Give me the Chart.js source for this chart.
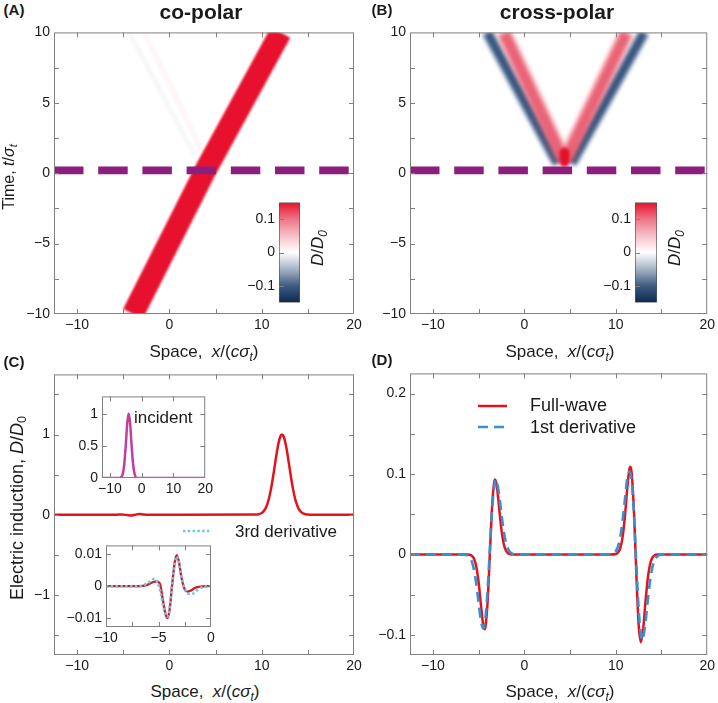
<!DOCTYPE html>
<html><head><meta charset="utf-8">
<script src="https://cdn.jsdelivr.net/npm/chart.js@4.4.1/dist/chart.umd.min.js"></script>
<style>
html,body{margin:0;padding:0;background:#fff;}
#fig{position:relative;width:718px;height:703px;overflow:hidden;background:#fff;font-family:'Liberation Sans',Arial,Helvetica,sans-serif;color:#1a1a1a;}
canvas{position:absolute;}
.t{position:absolute;white-space:nowrap;line-height:1.15;transform:translate(-50%,-50%);}
.l{position:absolute;white-space:nowrap;line-height:1.15;transform:translate(0,-50%);}
.r{transform:translate(-50%,-50%) rotate(-90deg);}
.b{font-weight:bold;}
sub{font-size:0.7em;vertical-align:-0.3em;line-height:0;}
</style></head>
<body>
<div id="fig">
<div id="plots"></div>
<div class="t b" style="left:14px;top:10px;font-size:15px">(A)</div>
<div class="t b" style="left:201px;top:11.5px;font-size:21px">co-polar</div>
<div class="t b" style="left:382px;top:10px;font-size:15px">(B)</div>
<div class="t b" style="left:557px;top:11.5px;font-size:21px">cross-polar</div>
<div class="t r" style="left:9px;top:177px;font-size:16px">Time, <i>t</i>/<i>σ</i><sub><i>t</i></sub></div>
<div class="t" style="left:204px;top:352px;font-size:17px">Space,&nbsp; <i>x</i>/(<i>cσ</i><sub><i>t</i></sub>)</div>
<div class="t" style="left:560px;top:352px;font-size:17px">Space,&nbsp; <i>x</i>/(<i>cσ</i><sub><i>t</i></sub>)</div>
<div class="t b" style="left:14px;top:362px;font-size:15px">(C)</div>
<div class="t b" style="left:382px;top:360px;font-size:15px">(D)</div>
<div class="t r" style="left:17px;top:508px;font-size:18px">Electric induction, <i>D</i>/<i>D</i><sub>0</sub></div>
<div class="t" style="left:205px;top:692px;font-size:17px">Space,&nbsp; <i>x</i>/(<i>cσ</i><sub><i>t</i></sub>)</div>
<div class="t" style="left:560px;top:692px;font-size:17px">Space,&nbsp; <i>x</i>/(<i>cσ</i><sub><i>t</i></sub>)</div>
<div class="l" style="left:134px;top:417.5px;font-size:17px">incident</div>
<div class="l" style="left:235px;top:532px;font-size:17px">3rd derivative</div>
<div class="l" style="left:530px;top:405px;font-size:18px">Full-wave</div>
<div class="l" style="left:530px;top:427px;font-size:18px">1st derivative</div>
<div class="t r" style="left:318px;top:248px;font-size:17px"><i>D</i>/<i>D</i><sub><i>0</i></sub></div>
<div class="t r" style="left:675px;top:248px;font-size:17px"><i>D</i>/<i>D</i><sub><i>0</i></sub></div>
</div>
<script>
const FONT = "'Liberation Sans', Arial, Helvetica, sans-serif";

// ---------- axis ranges and ticks ----------
const spaceRange = [-12.5, 20];
const timeRange = [-10, 10];
const cRange = [-1.75, 1.75];
const dRange = [-0.125, 0.225];
const incRangeX = [-12.5, 20];
const incRangeY = [0, 1.27];
const detRangeX = [-10, 0];
const detRangeY = [-0.0127, 0.0127];
const cbRange = [-0.15, 0.15];

const spaceTicks = [-10, -5, 0, 5, 10, 15, 20];
const spaceTickLabels = ['\u221210', '', '0', '', '10', '', '20'];
const timeTicks = [-10, -7.5, -5, -2.5, 0, 2.5, 5, 7.5, 10];
const timeTickLabels = ['\u221210', '', '\u22125', '', '0', '', '5', '', '10'];
const cTicksY = [-1.5, -1, -0.5, 0, 0.5, 1, 1.5];
const cTickLabelsY = ['', '\u22121', '', '0', '', '1', ''];
const dTicksY = [-0.1, -0.05, 0, 0.05, 0.1, 0.15, 0.2];
const dTickLabelsY = ['\u22120.1', '', '0', '', '0.1', '', '0.2'];
const incTicksX = [-10, 0, 10, 20];
const incTickLabelsX = ['\u221210', '0', '10', '20'];
const incTicksY = [0, 0.5, 1];
const incTickLabelsY = ['0', '0.5', '1'];
const detTicksX = [-10, -7.5, -5, -2.5, 0];
const detTickLabelsX = ['\u221210', '', '\u22125', '', '0'];
const detTicksY = [-0.01, 0, 0.01];
const detTickLabelsY = ['\u22120.01', '0', '0.01'];
const cbTicks = [-0.1, 0, 0.1];
const cbTickLabels = ['\u22120.1', '0', '0.1'];

// colour map of D/D0
const cmapVals = [-0.15, -0.1, -0.05, 0, 0.05, 0.1, 0.15];
const cmapColors = ['#0e2850', '#3f5a80', '#a6b3c6', '#ffffff', '#f6c0c8', '#ee7585', '#e5112d'];

// ---------- (A) co-polar map: pulse trajectory (x at times t) ----------
const interfaceX = [-12.5, 20];
const interfaceT = [0.2, 0.2];
const coBandX = [-3.95, 3.9, 12.05];
const coBandT = [-10, 0.2, 10];
const coReflBlueX = [2.7, -4.35];
const coReflBlueT = [1.3, 10];
const coReflRedX = [3.45, -2.7];
const coReflRedT = [1.66, 10];

// ---------- (B) cross-polar map: stripe trajectories ----------
const crossBlueLX = [3.65, -4.05];
const crossBlueLT = [0.7, 10];
const crossRedLX = [4.25, -2.25];
const crossRedLT = [1.0, 10];
const crossRedRX = [4.55, 11.2];
const crossRedRT = [1.0, 10];
const crossBlueRX = [5.15, 13.1];
const crossBlueRT = [0.7, 10];
const apexX = [4.4, 4.4];
const apexT = [0.8, 1.45];

// ---------- (C) co-polar profile ----------
const cMainX = [-12.5, -7, -6.0, -5.5, -5.15, -4.6, -4.15, -3.7, -3.25, -2.8, -2.2, -1.5, -0.5, 9.5, 10, 10.25, 10.5, 10.75, 11, 11.25, 11.5, 11.75, 12, 12.2, 12.4, 12.65, 12.9, 13.15, 13.4, 13.65, 13.9, 14.15, 14.4, 14.75, 15.25, 20];
const cMainY = [0, 0, 0.0005, 0.0013, 0.0015, -0.004, -0.0099, 0.0005, 0.0097, 0.0025, -0.0017, -0.0005, 0, 0.003, 0.021, 0.048, 0.099, 0.186, 0.316, 0.486, 0.676, 0.85, 0.969, 1.0, 0.969, 0.85, 0.676, 0.486, 0.316, 0.186, 0.099, 0.048, 0.021, 0.005, 0, 0];
const incX = [-12.5, -7, -6, -5.5, -5, -4.5, -4.1, -3.7, -3.2, -2.7, -2.2, -1.5, 20];
const incY = [0, 0, 0.056, 0.21, 0.52, 0.88, 1, 0.88, 0.52, 0.21, 0.056, 0, 0];
const detFullX = [-10, -7, -6.5, -6, -5.5, -5.15, -4.85, -4.6, -4.35, -4.15, -3.95, -3.7, -3.45, -3.25, -3.05, -2.8, -2.5, -2.2, -1.9, -1.5, -1, -0.5, 0];
const detFullY = [0, 0, 0.0001, 0.0005, 0.0013, 0.0015, 0.0006, -0.0040, -0.0085, -0.0099, -0.0075, 0.0005, 0.0075, 0.0097, 0.0075, 0.0025, -0.0010, -0.0017, -0.0013, -0.0005, -0.0001, 0, 0];
const det3X = [-10, -7, -6.5, -6, -5.6, -5.35, -5.1, -4.8, -4.5, -4.3, -4.15, -3.95, -3.7, -3.45, -3.27, -3.05, -2.8, -2.4, -2.0, -1.7, -1.3, -0.9, -0.5, 0];
const det3Y = [0, 0, 0.0002, 0.0010, 0.0020, 0.0023, 0.0013, -0.0020, -0.0068, -0.0092, -0.0095, -0.0072, 0.0002, 0.0072, 0.0093, 0.0074, 0.0025, -0.0014, -0.0024, -0.0023, -0.0012, -0.0004, -0.0001, 0];

// ---------- (D) cross-polar profile ----------
const dFullX = [-12.5, -6.5, -6.25, -6.0, -5.75, -5.5, -5.25, -5.0, -4.75, -4.5, -4.35, -4.25, -4.0, -3.75, -3.5, -3.25, -3.19, -3.0, -2.75, -2.5, -2.25, -2.0, -1.75, -1.5, -1.25, 9.5, 10.0, 10.25, 10.5, 10.75, 11.0, 11.25, 11.5, 11.6, 11.75, 12.0, 12.25, 12.5, 12.75, 13.0, 13.25, 13.5, 13.75, 14.0, 14.25, 14.5, 20];
const dFullY = [0, 0, -0.0001, -0.0004, -0.0016, -0.0053, -0.0152, -0.0343, -0.062, -0.0873, -0.093, -0.090, -0.0563, 0.0053, 0.064, 0.0922, 0.093, 0.0845, 0.0573, 0.0305, 0.013, 0.0045, 0.0012, 0.0003, 0, 0, 0.0006, 0.0025, 0.0082, 0.0219, 0.0473, 0.0811, 0.1065, 0.109, 0.100, 0.0505, -0.0245, -0.0869, -0.109, -0.0925, -0.059, -0.0297, -0.0121, -0.0039, -0.001, 0, 0];
const dDerivX = [-12.5, -7.0, -6.75, -6.5, -6.25, -6.0, -5.75, -5.5, -5.25, -5.0, -4.75, -4.5, -4.25, -4.0, -3.75, -3.5, -3.25, -3.1, -3.0, -2.75, -2.5, -2.25, -2.0, -1.75, -1.5, -1.25, -1.0, 9.25, 9.5, 9.75, 10.0, 10.25, 10.5, 10.75, 11.0, 11.25, 11.5, 11.75, 12.0, 12.25, 12.5, 12.75, 12.9, 13.0, 13.25, 13.5, 13.75, 14.0, 14.25, 14.5, 14.75, 15.0, 20];
const dDerivY = [0, 0, -0.0001, -0.0003, -0.0012, -0.0034, -0.0087, -0.0192, -0.0368, -0.0597, -0.082, -0.092, -0.0793, -0.0416, 0.0107, 0.0592, 0.0875, 0.093, 0.090, 0.0738, 0.0502, 0.029, 0.0143, 0.0061, 0.0023, 0.0007, 0, 0, 0.0004, 0.0013, 0.0039, 0.0100, 0.0220, 0.0420, 0.0682, 0.0937, 0.103, 0.0905, 0.0475, -0.0123, -0.0676, -0.100, -0.107, -0.103, -0.0843, -0.0574, -0.033, -0.0163, -0.007, -0.0026, -0.0008, 0, 0];

// ---------- styles ----------
const RED = '#e3131e';
const PURPLE = '#8b1f7e';
const style3rd = {color: '#6cc8e4', width: 2.6, dash: [2.4, 2.4]};
const styleFull = {color: RED, width: 2.5, dash: []};
const style1st = {color: '#3b8fd0', width: 2.6, dash: [10, 6]};

function zip(xs, ys) { return xs.map((x, i) => ({x: x, y: ys[i]})); }

function line(data, color, width, extra) {
  return Object.assign({data: data, showLine: true, borderColor: color, backgroundColor: color,
    borderWidth: width, pointRadius: 0, pointHoverRadius: 0, fill: false, clip: 0,
    borderCapStyle: 'butt', borderJoinStyle: 'round'}, extra || {});
}

const blurPlugin = {
  id: 'blurLines',
  beforeDatasetDraw(chart, args) {
    const ds = chart.data.datasets[args.index];
    if (ds.blur) { chart.ctx.save(); chart.ctx.filter = 'blur(' + ds.blur + 'px)'; }
  },
  afterDatasetDraw(chart, args) {
    const ds = chart.data.datasets[args.index];
    if (ds.blur) chart.ctx.restore();
  }
};

const framePlugin = {
  id: 'frameTicks',
  afterDatasetsDraw(chart, args, opts) {
    const ctx = chart.ctx, a = chart.chartArea, sc = chart.scales;
    const L = opts.len || 5;
    ctx.save();
    ctx.strokeStyle = '#808080';
    ctx.lineWidth = 1;
    const seg = (x1, y1, x2, y2) => { ctx.beginPath(); ctx.moveTo(x1, y1); ctx.lineTo(x2, y2); ctx.stroke(); };
    if (opts.frame !== false) ctx.strokeRect(a.left + 0.5, a.top + 0.5, a.right - a.left - 1, a.bottom - a.top - 1);
    if (opts.x !== false) {
      for (const t of sc.x.ticks) {
        const p = Math.round(sc.x.getPixelForValue(t.value)) + 0.5;
        if (p <= a.left + 1 || p >= a.right - 1) continue;
        seg(p, a.bottom, p, a.bottom - L); seg(p, a.top, p, a.top + L);
      }
    }
    if (opts.y !== false) {
      for (const t of sc.y.ticks) {
        const p = Math.round(sc.y.getPixelForValue(t.value)) + 0.5;
        if (p <= a.top + 1 || p >= a.bottom - 1) continue;
        seg(a.left, p, a.left + L, p);
        if (opts.y !== 'left') seg(a.right, p, a.right - L, p);
      }
    }
    ctx.restore();
  }
};

const legendPlugin = {
  id: 'legendSamples',
  afterDatasetsDraw(chart, args, opts) {
    if (!opts.items) return;
    const ctx = chart.ctx;
    for (const it of opts.items) {
      ctx.save();
      ctx.strokeStyle = it.style.color; ctx.lineWidth = it.style.width;
      ctx.setLineDash(it.style.dash); ctx.lineCap = 'butt';
      ctx.beginPath(); ctx.moveTo(it.x1, it.y); ctx.lineTo(it.x2, it.y); ctx.stroke();
      ctx.restore();
    }
  }
};
Chart.register(blurPlugin, framePlugin, legendPlugin);

function axis(kind, range, ticks, labels, size, pad) {
  return {
    type: 'linear', position: kind === 'x' ? 'bottom' : 'left',
    min: range[0], max: range[1],
    afterBuildTicks: s => { s.ticks = ticks.map(v => ({value: v})); },
    afterFit: s => { if (kind === 'x') s.height = size; else s.width = size; },
    ticks: {autoSkip: false, maxRotation: 0, minRotation: 0, padding: pad, color: '#1a1a1a',
      font: {family: FONT, size: 14}, callback: (v, i) => labels[i]},
    grid: {display: false, drawTicks: false},
    border: {display: false}
  };
}

function makeCanvas(box) {
  const cv = document.createElement('canvas');
  cv.width = box[2]; cv.height = box[3];
  cv.style.left = box[0] + 'px'; cv.style.top = box[1] + 'px';
  cv.style.width = box[2] + 'px'; cv.style.height = box[3] + 'px';
  document.getElementById('plots').appendChild(cv);
  return cv;
}

function makePlot(c) {
  return new Chart(makeCanvas(c.box), {
    type: 'scatter',
    data: {datasets: c.datasets},
    options: {
      responsive: false, animation: false, events: [],
      layout: {padding: c.pad},
      plugins: {legend: {display: false}, tooltip: {enabled: false}, title: {display: false},
        frameTicks: c.frame || {}, legendSamples: {items: c.legend || []}},
      scales: {
        x: axis('x', c.xRange, c.xTicks, c.xLabels, c.xH, c.xPad),
        y: axis('y', c.yRange, c.yTicks, c.yLabels, c.yW, 4)
      }
    }
  });
}

function makeColorbar(box, pad) {
  return new Chart(makeCanvas(box), {
    type: 'bar',
    data: {labels: [''], datasets: [{
      data: [cbRange],
      backgroundColor: ctx => {
        const ch = ctx.chart, y = ch.scales.y;
        if (!ch.chartArea || !y) return '#ffffff';
        const y0 = y.getPixelForValue(cbRange[0]), y1 = y.getPixelForValue(cbRange[1]);
        const g = ch.ctx.createLinearGradient(0, y0, 0, y1);
        cmapVals.forEach((v, i) => g.addColorStop((v - cbRange[0]) / (cbRange[1] - cbRange[0]), cmapColors[i]));
        return g;
      },
      borderColor: '#555', borderWidth: 1, borderSkipped: false,
      barPercentage: 1, categoryPercentage: 1
    }]},
    options: {
      responsive: false, animation: false, events: [],
      layout: {padding: pad},
      plugins: {legend: {display: false}, tooltip: {enabled: false},
        frameTicks: {frame: false, x: false, y: 'left', len: 5}},
      scales: {x: {display: false}, y: axis('y', cbRange, cbTicks, cbTickLabels, 49, 4)}
    }
  });
}

const interfaceDs = () => line(zip(interfaceX, interfaceT), PURPLE, 7.7, {borderDash: [29.5, 14.7], order: 0});

// (A) co-polar map
makePlot({
  box: [0, 20, 366, 320], pad: {left: 0, top: 9, right: 12, bottom: 0}, yW: 54, xH: 26, xPad: 3,
  xRange: spaceRange, xTicks: spaceTicks, xLabels: spaceTickLabels,
  yRange: timeRange, yTicks: timeTicks, yLabels: timeTickLabels,
  datasets: [
    interfaceDs(),
    line(zip(coBandX, coBandT), '#e8112d', 22, {blur: 1.3, order: 1}),
    line(zip(coReflRedX, coReflRedT), 'rgba(232,17,45,0.04)', 6, {blur: 1.2, order: 2}),
    line(zip(coReflBlueX, coReflBlueT), 'rgba(60,90,140,0.05)', 5, {blur: 1.2, order: 3})
  ]
});
makeColorbar([230, 190, 75, 125], {left: 0, top: 10, right: 5, bottom: 10});

// (B) cross-polar map
makePlot({
  box: [356, 20, 362, 320], pad: {left: 0, top: 9, right: 8, bottom: 0}, yW: 54, xH: 26, xPad: 3,
  xRange: spaceRange, xTicks: spaceTicks, xLabels: spaceTickLabels,
  yRange: timeRange, yTicks: timeTicks, yLabels: timeTickLabels,
  datasets: [
    interfaceDs(),
    line(zip(apexX, apexT), '#e5112c', 10, {blur: 1.5, borderCapStyle: 'round', order: 1}),
    line(zip(crossRedLX, crossRedLT), '#ea6275', 13, {blur: 2.8, order: 2}),
    line(zip(crossRedRX, crossRedRT), '#ea6275', 13, {blur: 2.8, order: 2}),
    line(zip(crossBlueLX, crossBlueLT), '#385781', 10, {blur: 2.3, order: 3}),
    line(zip(crossBlueRX, crossBlueRT), '#385781', 10, {blur: 2.3, order: 3})
  ]
});
makeColorbar([586, 190, 76, 125], {left: 0, top: 10, right: 5, bottom: 10});

// (C) co-polar profile
makePlot({
  box: [0, 362, 366, 319], pad: {left: 0, top: 10, right: 12, bottom: 0}, yW: 54, xH: 26, xPad: 3,
  xRange: spaceRange, xTicks: spaceTicks, xLabels: spaceTickLabels,
  yRange: cRange, yTicks: cTicksY, yLabels: cTickLabelsY,
  datasets: [
    line(zip(cMainX, cMainY), styleFull.color, styleFull.width, {cubicInterpolationMode: 'monotone'})
  ],
  legend: [{style: style3rd, x1: 183, x2: 212, y: 169}]
});
// inset: incident pulse
makePlot({
  box: [56, 384, 160, 120], pad: {left: 0, top: 10, right: 8, bottom: 0}, yW: 46, xH: 26, xPad: 3,
  xRange: incRangeX, xTicks: incTicksX, xLabels: incTickLabelsX,
  yRange: incRangeY, yTicks: incTicksY, yLabels: incTickLabelsY,
  datasets: [
    line(zip(incX, incY), '#c13f9e', 2.5, {cubicInterpolationMode: 'monotone'})
  ]
});
// inset: reflected detail
makePlot({
  box: [46, 533, 172, 120], pad: {left: 0, top: 10, right: 7, bottom: 0}, yW: 60, xH: 26, xPad: 3,
  xRange: detRangeX, xTicks: detTicksX, xLabels: detTickLabelsX,
  yRange: detRangeY, yTicks: detTicksY, yLabels: detTickLabelsY,
  datasets: [
    line(zip(det3X, det3Y), style3rd.color, style3rd.width, {borderDash: style3rd.dash, cubicInterpolationMode: 'monotone', order: 0}),
    line(zip(detFullX, detFullY), styleFull.color, 2.3, {cubicInterpolationMode: 'monotone', order: 1})
  ]
});

// (D) cross-polar profile
makePlot({
  box: [356, 361, 362, 320], pad: {left: 0, top: 10, right: 8, bottom: 0}, yW: 54, xH: 26, xPad: 3,
  xRange: spaceRange, xTicks: spaceTicks, xLabels: spaceTickLabels,
  yRange: dRange, yTicks: dTicksY, yLabels: dTickLabelsY,
  datasets: [
    line(zip(dDerivX, dDerivY), style1st.color, style1st.width, {borderDash: style1st.dash, cubicInterpolationMode: 'monotone', order: 0}),
    line(zip(dFullX, dFullY), styleFull.color, styleFull.width, {cubicInterpolationMode: 'monotone', order: 1})
  ],
  legend: [{style: styleFull, x1: 122, x2: 151, y: 45}, {style: style1st, x1: 122, x2: 151, y: 66}]
});
</script>
</body></html>
